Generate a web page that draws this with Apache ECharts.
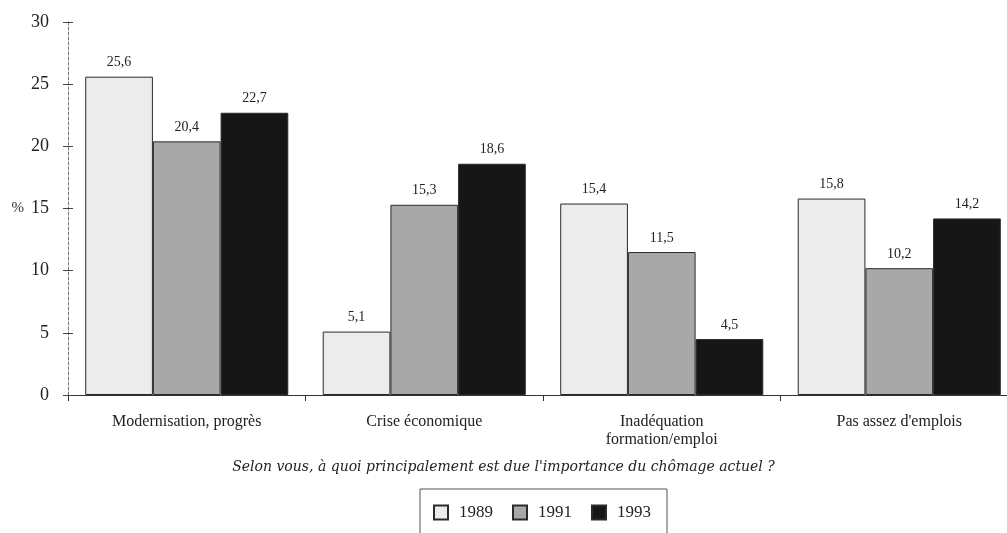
<!DOCTYPE html>
<html>
<head>
<meta charset="utf-8">
<script src="https://cdn.jsdelivr.net/npm/echarts@6/dist/echarts.min.js"></script>
<style>
  html, body { margin: 0; padding: 0; background: #ffffff; }
  #chart { width: 1007px; height: 533px; }
</style>
</head>
<body>
<div id="chart"></div>
<script>
// Causes of unemployment, share of answers (%) by survey year
const categories = [
  'Modernisation, progrès',
  'Crise économique',
  'Inadéquation\nformation/emploi',
  "Pas assez d'emplois"
];
const years = ['1989', '1991', '1993'];
const values1989 = [25.6, 5.1, 15.4, 15.8];
const values1991 = [20.4, 15.3, 11.5, 10.2];
const values1993 = [22.7, 18.6, 4.5, 14.2];
const yTicks = [0, 5, 10, 15, 20, 25, 30];
const question = "Selon vous, à quoi principalement est due l'importance du chômage actuel ?";

const fills = ['#ececec', '#a8a8a8', '#161616'];
const serif = '"Liberation Serif", "DejaVu Serif", serif';

const chart = echarts.init(document.getElementById('chart'), null, { renderer: 'canvas' });

const seriesData = [values1989, values1991, values1993];

const option = {
  backgroundColor: '#ffffff',
  animation: false,
  title: {
    text: question,
    left: 'center',
    top: 455,
    textStyle: { fontFamily: '"DejaVu Serif", serif', fontStyle: 'italic', fontWeight: 'normal', fontSize: 14, color: '#222' }
  },
  legend: {
    data: years,
    left: 420,
    top: 489,
    orient: 'horizontal',
    icon: 'rect',
    borderColor: '#555',
    borderWidth: 1,
    padding: [15, 16, 16, 13],
    itemWidth: 14,
    itemHeight: 14,
    itemGap: 19,
    textStyle: { fontFamily: serif, fontSize: 17, color: '#222', padding: [0, 0, 0, 6] }
  },
  grid: { left: 68, top: 22, width: 950, height: 373, outerBoundsMode: 'none', containLabel: false },
  xAxis: {
    type: 'category',
    data: categories,
    axisLine: { show: true, lineStyle: { color: '#333', width: 1 } },
    axisTick: { show: true, length: 6, alignWithLabel: false, lineStyle: { color: '#333' } },
    axisLabel: {
      fontFamily: serif, fontSize: 16, color: '#222', margin: 18, lineHeight: 18
    }
  },
  yAxis: [
    {
      type: 'value',
      min: yTicks[0],
      max: yTicks[yTicks.length - 1],
      interval: 5,
      name: '%',
      nameLocation: 'middle',
      nameRotate: 0,
      nameGap: 44,
      nameTextStyle: { fontFamily: serif, fontSize: 15, color: '#333' },
      axisLine: { show: true, lineStyle: { color: '#777', width: 1, type: [3, 2] } },
      axisTick: { show: true, length: 5, lineStyle: { color: '#444' } },
      axisLabel: { fontFamily: serif, fontSize: 18, color: '#222', margin: 19 },
      splitLine: { show: false }
    },
    {
      type: 'value',
      position: 'left',
      min: yTicks[0],
      max: yTicks[yTicks.length - 1],
      interval: 5,
      axisLine: { show: false },
      axisTick: { show: true, inside: true, length: 5, lineStyle: { color: '#444' } },
      axisLabel: { show: false },
      splitLine: { show: false }
    }
  ],
  series: years.map((y, i) => ({
    name: y,
    type: 'bar',
    data: seriesData[i],
    barGap: '0%',
    barCategoryGap: '14.5%',
    itemStyle: { color: fills[i], borderColor: '#2a2a2a', borderWidth: 1 },
    label: {
      show: true,
      position: 'top',
      distance: 7,
      fontFamily: serif,
      fontSize: 14,
      color: '#222',
      formatter: p => p.value.toFixed(1).replace('.', ',')
    }
  }))
};

chart.setOption(option);
</script>
</body>
</html>
